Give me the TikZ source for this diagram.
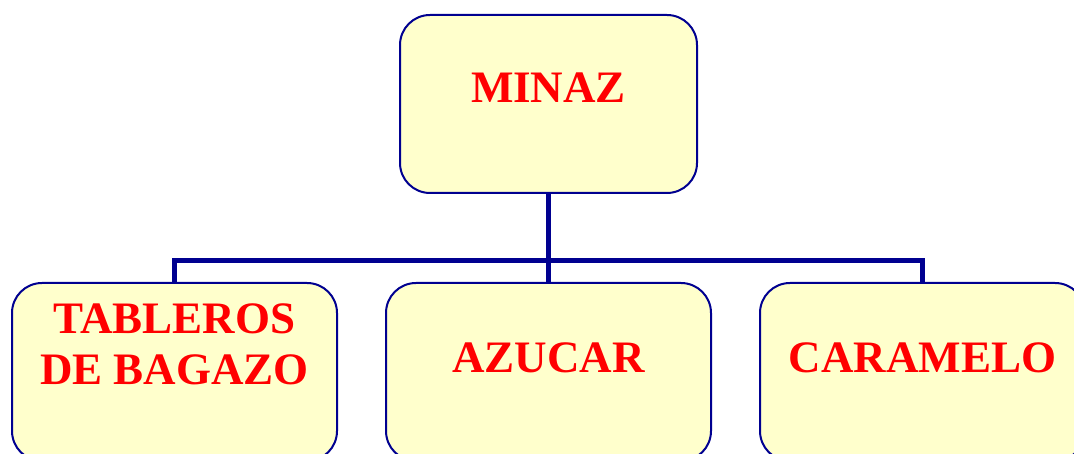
\documentclass[tikz,border=0pt]{standalone}
\usepackage{fontspec}
\setmainfont{Liberation Serif}
\definecolor{boxfill}{HTML}{FFFFCC}
\definecolor{boxline}{HTML}{000090}
\definecolor{txtred}{HTML}{FF0000}
\begin{document}
\begin{tikzpicture}[x=1pt,y=1pt,
  box/.style={draw=boxline, line width=2pt, fill=boxfill, rounded corners=30pt, minimum height=178pt, inner sep=0pt, outer sep=0pt},
  lbl/.style={text=txtred, font=\fontsize{45}{51}\selectfont\bfseries, align=center, anchor=base, inner sep=0pt},
  conn/.style={draw=boxline, line width=5pt}]
\useasboundingbox (0,0) rectangle (1074,454);
\clip (0,0) rectangle (1074,454);
% boxes
\node[box, minimum width=297pt] (top) at (548.5,350) {};
\node[box, minimum width=325pt] (left) at (174.5,82) {};
\node[box, minimum width=325pt] (mid) at (548.5,82) {};
\node[box, minimum width=325pt] (right) at (922.5,82) {};
% connectors
\coordinate (bus) at (548.5,193);
\draw[conn] (top.south) -- (bus);
\draw[conn] (left.north) |- (bus) -| (right.north);
\draw[conn] (bus) -- (mid.north);
% labels
\node[lbl] (tminaz) at (548.5,351) {MINAZ};
\node[lbl] (ttab) at (174.5,69) {TABLEROS\\DE BAGAZO};
\node[lbl] (tazu) at (548.5,81) {AZUCAR};
\node[lbl] (tcar) at (922.5,81) {CARAMELO};
\end{tikzpicture}
\end{document}
